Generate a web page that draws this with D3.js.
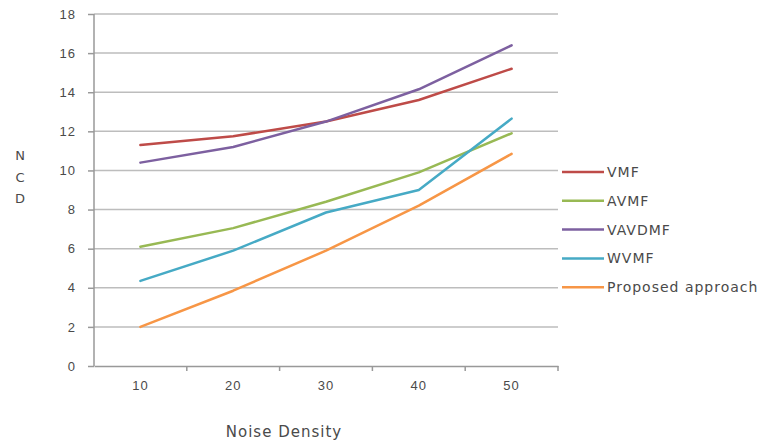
<!DOCTYPE html>
<html>
<head>
<meta charset="utf-8">
<script src="https://cdn.jsdelivr.net/npm/d3@7"></script>
<style>
  body { margin: 0; background: #fff; }
  svg { display: block; font-family: 'DejaVu Sans', Verdana, sans-serif; }
  .tick text { fill: #4a4a4a; font-size: 13px; letter-spacing: 1px; }
</style>
</head>
<body>
<svg id="chart" width="768" height="447"></svg>
<script>
const categories = ['10', '20', '30', '40', '50'];
const seriesNames = ['VMF', 'AVMF', 'VAVDMF', 'WVMF', 'Proposed approach'];
const vmf = [11.3, 11.75, 12.5, 13.6, 15.2];
const avmf = [6.1, 7.05, 8.4, 9.9, 11.9];
const vavdmf = [10.4, 11.2, 12.5, 14.15, 16.4];
const wvmf = [4.35, 5.9, 7.85, 9.0, 12.65];
const proposed = [2.0, 3.85, 5.9, 8.2, 10.85];
const yTicks = [0, 2, 4, 6, 8, 10, 12, 14, 16, 18];

const colors = ['#BE4B48', '#98B954', '#7D60A0', '#46AAC5', '#F79646'];
const series = [vmf, avmf, vavdmf, wvmf, proposed];

const svg = d3.select('#chart');
const plotLeft = 94, plotRight = 558, plotTop = 14, plotBottom = 366;

const x = d3.scaleBand().domain(categories).range([plotLeft, plotRight]);
const y = d3.scaleLinear().domain([0, 18]).range([plotBottom, plotTop]);

// gridlines
svg.append('g')
  .selectAll('line')
  .data(yTicks.slice(1))
  .join('line')
  .attr('x1', plotLeft).attr('x2', plotRight)
  .attr('y1', d => y(d)).attr('y2', d => y(d))
  .attr('stroke', '#bdbdbd').attr('stroke-width', 1.5);

// y axis
const yAxis = svg.append('g')
  .attr('transform', 'translate(' + plotLeft + ',0)')
  .call(d3.axisLeft(y).tickValues(yTicks).tickSize(6).tickPadding(12));
yAxis.selectAll('line, path').attr('stroke', '#999').attr('stroke-width', 1.5);
yAxis.select('.domain').attr('d', 'M0,' + plotTop + 'V' + plotBottom);

// x axis
const xAxis = svg.append('g')
  .attr('transform', 'translate(0,' + plotBottom + ')')
  .call(d3.axisBottom(x).tickSize(0).tickPadding(15));
xAxis.select('.domain').attr('stroke', '#999').attr('stroke-width', 1.5);
xAxis.append('g')
  .selectAll('line')
  .data(categories)
  .join('line')
  .attr('x1', (d, i) => plotLeft + (i + 1) * x.step())
  .attr('x2', (d, i) => plotLeft + (i + 1) * x.step())
  .attr('y1', 0).attr('y2', 5)
  .attr('stroke', '#999').attr('stroke-width', 1.5);

// lines
const line = d3.line()
  .x((d, i) => x(categories[i]) + x.bandwidth() / 2)
  .y(d => y(d));

svg.append('g')
  .selectAll('path')
  .data(series)
  .join('path')
  .attr('d', line)
  .attr('fill', 'none')
  .attr('stroke', (d, i) => colors[i])
  .attr('stroke-width', 2.5)
  .attr('stroke-linecap', 'round')
  .attr('stroke-linejoin', 'round');

// legend
const legend = svg.append('g')
  .selectAll('g')
  .data(seriesNames)
  .join('g')
  .attr('transform', (d, i) => 'translate(562,' + (172 + i * 28.8) + ')');
legend.append('line')
  .attr('x1', 0).attr('x2', 42)
  .attr('stroke', (d, i) => colors[i])
  .attr('stroke-width', 2.5);
legend.append('text')
  .attr('x', 45).attr('dy', '0.35em')
  .attr('fill', '#4a4a4a')
  .style('font-size', '14px')
  .style('letter-spacing', '1px')
  .text(d => d);

// axis titles
svg.append('text')
  .attr('x', 284).attr('y', 437)
  .attr('text-anchor', 'middle')
  .attr('fill', '#4a4a4a')
  .style('font-size', '15px')
  .style('letter-spacing', '1px')
  .text('Noise Density');

svg.append('g')
  .selectAll('text')
  .data(['N', 'C', 'D'])
  .join('text')
  .attr('x', 20)
  .attr('y', (d, i) => 160 + i * 21.5)
  .attr('text-anchor', 'middle')
  .attr('fill', '#4a4a4a')
  .style('font-size', '13px')
  .text(d => d);
</script>
</body>
</html>
